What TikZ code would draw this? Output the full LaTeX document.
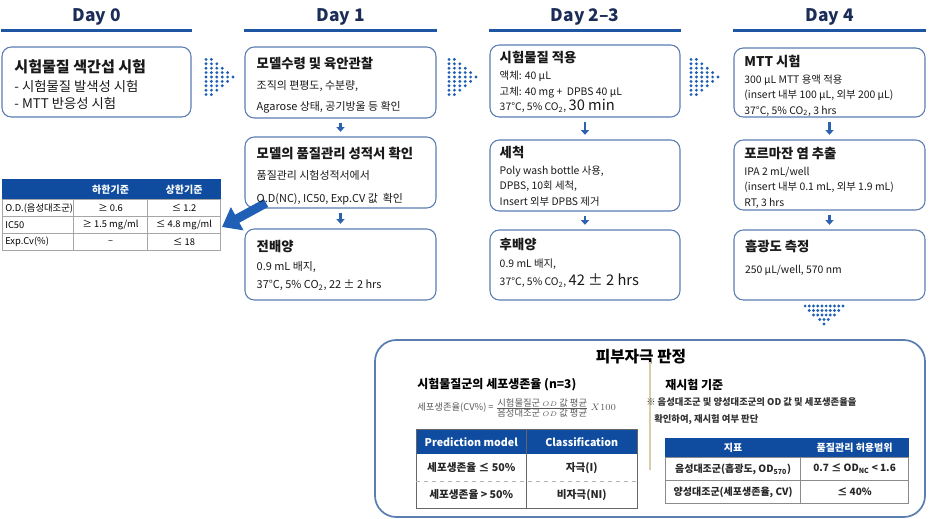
\documentclass[tikz,border=0pt]{standalone}
\usepackage{fontspec}
\setmainfont{Noto Sans CJK KR}
\usetikzlibrary{arrows.meta, positioning, fit, matrix}

\definecolor{dayc}{HTML}{1B2C58}
\definecolor{linec}{HTML}{1E56A4}
\definecolor{boxc}{HTML}{5B7DB1}
\definecolor{arrc}{HTML}{2D62AE}
\definecolor{dotc}{HTML}{1F5FB5}
\definecolor{hdrc}{HTML}{0F4C9F}
\definecolor{sepc}{HTML}{D8CFA8}

\begin{document}
\begin{tikzpicture}[x=0.75pt,y=-0.75pt,
  box/.style={draw=boxc,line width=0.8pt,rounded corners=7pt,inner sep=0pt},
  bigbox/.style={draw=boxc,line width=1.3pt,rounded corners=16pt,inner sep=0pt},
  day/.style={text=dayc,font=\fontsize{13}{16}\selectfont\bfseries},
  dayline/.style={draw=linec,line width=2.6pt},
  txt/.style={anchor=north west,align=left,inner sep=0pt,text=black!90,font=\fontsize{7.8}{11.6}\selectfont},
  ttl/.style={font=\fontsize{10}{12}\selectfont\bfseries},
  sarr/.style={draw=arrc,line width=2pt,-{Triangle[length=3.5pt,width=6pt]},shorten <=3.5pt,shorten >=3.5pt},
  bigarr/.style={draw=dotc,line width=6.75pt,-{Triangle[length=13pt,width=19pt]}},
  tline/.style={draw=black!60,line width=0.6pt},
  dline/.style={draw=black!30,line width=0.5pt,dashed},
  dotr/.pic={\foreach \n [count=\i from 0] in {9,9,7,5,3,1} {\foreach \j in {1,...,\n} {\fill[dotc] ({\i*5.4},{(\j-(\n+1)/2)*4.4}) circle (1.2pt);}}},
  dotd/.pic={\foreach \n [count=\i from 0] in {10,8,6,3,1} {\foreach \j in {1,...,\n} {\fill[dotc] ({(\j-(\n+1)/2)*4.2},{\i*4.5}) circle (1.2pt);}}}]
\useasboundingbox (0,0) rectangle (931,518);

% process boxes
\node[box,fit={(2,47) (191,117)}] (b0) {};
\node[box,fit={(245,47) (436,118)}] (b11) {};
\node[box,fit={(245,137) (436,208)}] (b12) {};
\node[box,fit={(245,229) (436,300)}] (b13) {};
\node[box,fit={(490,45) (680,117)}] (b21) {};
\node[box,fit={(490,140) (680,211)}] (b22) {};
\node[box,fit={(490,230) (680,300)}] (b23) {};
\node[box,fit={(734,48) (925,117)}] (b31) {};
\node[box,fit={(734,140) (925,210)}] (b32) {};
\node[box,fit={(734,230) (925,300)}] (b33) {};

% day headers
\node[day] (d0) at ([yshift=22.5pt]b0.north) {Day 0};
\node[day] (d1) at ([yshift=22.5pt]b11.north) {Day 1};
\node[day] (d2) at ([yshift=21pt]b21.north) {Day 2--3};
\node[day] (d3) at ([yshift=23pt]b31.north) {Day 4};
\draw[dayline] ([yshift=12pt]b0.north west) -- ([yshift=12pt]b0.north east);
\draw[dayline] ([yshift=12pt]b11.north west) -- ([yshift=12pt]b11.north east);
\draw[dayline] ([yshift=10.5pt]b21.north west) -- ([yshift=10.5pt]b21.north east);
\draw[dayline] ([yshift=12.75pt]b31.north west) -- ([yshift=12.75pt]b31.north east);

% arrows
\pic at (206,77) {dotr};
\pic at (449,77) {dotr};
\pic at (691,77) {dotr};
\pic at (824,306) {dotd};
\draw[sarr] (b11) -- (b12);
\draw[sarr] (b12) -- (b13);
\draw[sarr] (b21) -- (b22);
\draw[sarr] (b22) -- (b23);
\draw[sarr] (b31) -- (b32);
\draw[sarr] (b32) -- (b33);
\coordinate (at0) at (266,203);
\coordinate (at1) at (222,227);
\draw[bigarr] (at0) -- (at1);

% box texts
\node[txt,font=\fontsize{10}{13}\selectfont] (x0) at ([xshift=9.5pt,yshift=-10pt]b0.north west)
  {{\fontsize{11.3}{13}\selectfont\bfseries 시험물질 색간섭 시험}\\[1pt] - 시험물질 발색성 시험\\ - MTT 반응성 시험};
\node[txt,font=\fontsize{8.2}{16}\selectfont] (x11) at ([xshift=9pt,yshift=-7.5pt]b11.north west)
  {{\fontsize{10}{12}\selectfont\bfseries 모델수령 및 육안관찰}\\ 조직의 편평도, 수분량,\\ Agarose 상태, 공기방울 등 확인};
\node[txt,font=\fontsize{8.2}{16}\selectfont] (x12) at ([xshift=9pt,yshift=-7.5pt]b12.north west)
  {{\fontsize{10}{12}\selectfont\bfseries 모델의 품질관리 성적서 확인}\\ 품질관리 시험성적서에서\\[1pt] O.D(NC), IC50, Exp.CV 값\ \ 확인};
\node[txt,font=\fontsize{8.2}{13.5}\selectfont] (x13) at ([xshift=9pt,yshift=-8.5pt]b13.north west)
  {{\fontsize{10}{12}\selectfont\bfseries 전배양}\\[1pt] 0.9 mL 배지,\\ 37°C, 5\% CO\textsubscript{2}, 22 ± 2 hrs};
\node[txt] (x21) at ([xshift=7.5pt,yshift=-5pt]b21.north west)
  {{\fontsize{10}{12}\selectfont\bfseries 시험물질 적용}\\[1pt] 액체: 40 μL\\ 고체: 40 mg +\ \ DPBS 40 μL\\ 37°C, 5\% CO\textsubscript{2}, {\fontsize{11}{12}\selectfont 30 min}};
\node[txt] (x22) at ([xshift=7.5pt,yshift=-5pt]b22.north west)
  {{\fontsize{10}{12}\selectfont\bfseries 세척}\\[1pt] Poly wash bottle 사용,\\ DPBS, 10회 세척,\\ Insert 외부 DPBS 제거};
\node[txt,font=\fontsize{7.8}{13.5}\selectfont] (x23) at ([xshift=7.5pt,yshift=-6.5pt]b23.north west)
  {{\fontsize{10}{12}\selectfont\bfseries 후배양}\\ 0.9 mL 배지,\\ 37°C, 5\% CO\textsubscript{2}, {\fontsize{11}{12}\selectfont 42 ± 2 hrs}};
\node[txt] (x31) at ([xshift=8pt,yshift=-5.5pt]b31.north west)
  {{\fontsize{10}{12}\selectfont\bfseries MTT 시험}\\[1pt] 300 μL MTT 용액 적용\\ (insert 내부 100 μL, 외부 200 μL)\\ 37°C, 5\% CO\textsubscript{2}, 3 hrs};
\node[txt] (x32) at ([xshift=8pt,yshift=-5.5pt]b32.north west)
  {{\fontsize{10}{12}\selectfont\bfseries 포르마잔 염 추출}\\[1pt] IPA 2 mL/well\\ (insert 내부 0.1 mL, 외부 1.9 mL)\\ RT, 3 hrs};
\node[txt,font=\fontsize{7.8}{15}\selectfont] (x33) at ([xshift=8.5pt,yshift=-8pt]b33.north west)
  {{\fontsize{10}{12}\selectfont\bfseries 흡광도 측정}\\[1pt] 250 μL/well, 570 nm};

% QC table
\matrix (t0) [matrix of nodes, nodes in empty cells, anchor=north west, inner sep=0pt,
  column sep=-0.5pt, row sep=-0.5pt,
  nodes={draw=black!35, line width=0.5pt, inner sep=2pt, anchor=center, minimum height=12.75pt,
    font=\fontsize{7}{8}\selectfont},
  row 1/.style={nodes={fill=hdrc, draw=hdrc, text=white, minimum height=15pt, font=\fontsize{7.5}{8}\selectfont\bfseries}},
  column 1/.style={nodes={text width=49.25pt, align=left}},
  column 2/.style={nodes={minimum width=55.5pt}},
  column 3/.style={nodes={minimum width=54.75pt}}] at (2,179) {
   & 하한기준 & 상한기준 \\
  O.D.(음성대조군) & ≥ 0.6 & ≤ 1.2 \\
  IC50 & ≥ 1.5 mg/ml & ≤ 4.8 mg/ml \\
  Exp.Cv(\%) & – & ≤ 18 \\
};

% judgement panel
\node[bigbox,fit={(375,340) (925,517)}] (bb) {};
\node[font=\fontsize{11.8}{14}\selectfont\bfseries] (jt) at (641,357) {피부자극 판정};
\node[anchor=west,inner sep=0pt,font=\fontsize{9}{11}\selectfont\bfseries] (s1) at (417,385) {시험물질군의 세포생존율 (n=3)};
\node[anchor=west,inner sep=0pt,text=black!65,font=\fontsize{7}{9}\selectfont] (fm) at (417,408)
  {세포생존율(CV\%) = $\frac{\mbox{시험물질군 }OD\mbox{ 값 평균}}{\mbox{음성대조군 }OD\mbox{ 값 평균}}\,X100$};
\matrix (t1) [matrix of nodes, anchor=north west, inner sep=0pt, column sep=0pt, row sep=0pt,
  nodes={inner sep=1pt, anchor=center, minimum height=20.25pt, text=black!85,
    font=\fontsize{8}{9}\selectfont\bfseries},
  row 1/.style={nodes={fill=hdrc, text=white, minimum height=18.75pt}},
  column 1/.style={nodes={minimum width=82.5pt}},
  column 2/.style={nodes={minimum width=83.25pt}}] at (416,429) {
  Prediction model & Classification \\
  세포생존율 ≤ 50\% & 자극(I) \\
  세포생존율 > 50\% & 비자극(NI) \\
};
\draw[tline] (t1.north west) rectangle (t1.south east);
\draw[tline] (t1-1-2.north west) -- (t1-3-2.south west);
\draw[dline] (t1-2-1.south west) -- (t1-2-2.south east);
\draw[sepc,line width=0.8pt] (650,362) -- (650,470);

\node[anchor=west,inner sep=0pt,font=\fontsize{9}{11}\selectfont\bfseries] (s2) at (665,385) {재시험 기준};
\node[anchor=north west,align=left,inner sep=0pt,text=black!80,font=\fontsize{7}{12.75}\selectfont\bfseries] (nt) at (646,397)
  {※ 음성대조군 및 양성대조군의 OD 값 및 세포생존율을\\ \hspace{6pt}확인하여, 재시험 여부 판단};
\matrix (t2) [matrix of nodes, anchor=north west, inner sep=0pt, column sep=-0.5pt, row sep=-0.5pt,
  nodes={draw=black!45, line width=0.5pt, inner sep=1pt, anchor=center, minimum height=17.25pt, text=black!85,
    font=\fontsize{7.5}{9}\selectfont\bfseries},
  row 1/.style={nodes={fill=hdrc, draw=hdrc, text=white, minimum height=14.25pt}},
  column 1/.style={nodes={minimum width=101.25pt}},
  column 2/.style={nodes={minimum width=81pt}}] at (665,438) {
  지표 & 품질관리 허용범위 \\
  음성대조군(흡광도, OD\textsubscript{570}) & 0.7 ≤ OD\textsubscript{NC} < 1.6 \\
  양성대조군(세포생존율, CV) & ≤ 40\% \\
};
\end{tikzpicture}
\end{document}
